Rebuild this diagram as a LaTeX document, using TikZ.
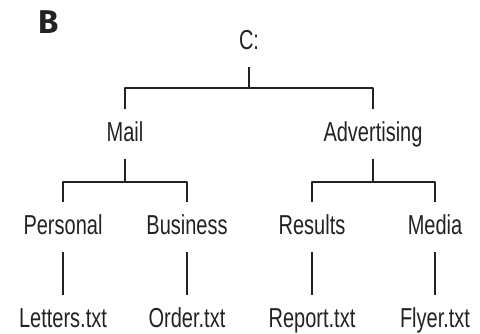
\documentclass[tikz,border=0pt]{standalone}
\usepackage{fontspec}
\setmainfont{Liberation Sans}[FakeStretch=0.73]
\newfontfamily\panelfont{Fira Sans}
\definecolor{inkgray}{HTML}{222222}
\begin{document}
\begin{tikzpicture}[line join=bevel,line width=1.3bp,draw=inkgray,
  dir/.style={draw=none,anchor=base,inner sep=0pt,outer xsep=0pt,outer ysep=14bp,
    text height=19bp,text depth=3.5bp,font=\fontsize{27.5}{30}\selectfont,text=inkgray},
  file/.style={dir,outer ysep=13bp},]
%%
\useasboundingbox (0bp,0bp) rectangle (480bp,334bp);
\node (node_B) at (48.5bp,311.5bp) [text=inkgray,inner sep=0pt] {\panelfont\bfseries\fontsize{33}{36}\selectfont B};
\node (node_C) at (249.0bp,284.0bp) [dir] {C:};
  \node (node_Mail) at (125.0bp,192.0bp) [dir] {Mail};
  \node (node_Advertising) at (373.0bp,192.0bp) [dir] {Advertising};
  \node (node_Personal) at (63.0bp,99.0bp) [dir] {Personal};
  \node (node_Business) at (187.0bp,99.0bp) [dir] {Business};
  \node (node_Results) at (312.0bp,99.0bp) [dir] {Results};
  \node (node_Media) at (435.0bp,99.0bp) [dir] {Media};
  \node (node_Letters) at (63.0bp,6.5bp) [file] {Letters.txt};
  \node (node_Order) at (187.0bp,6.5bp) [file] {Order.txt};
  \node (node_Report) at (312.0bp,6.5bp) [file] {Report.txt};
  \node (node_Flyer) at (435.0bp,6.5bp) [file] {Flyer.txt};
%
\coordinate (bar_C) at (249.0bp,246.0bp);
  \coordinate (bar_Mail) at (125.0bp,152.0bp);
  \coordinate (bar_Advertising) at (373.0bp,152.0bp);
%
\draw (node_C) -- (bar_C);
  \draw (bar_C) -| (node_Mail);
  \draw (bar_C) -| (node_Advertising);
  \draw (node_Mail) -- (bar_Mail);
  \draw (bar_Mail) -| (node_Personal);
  \draw (bar_Mail) -| (node_Business);
  \draw (node_Advertising) -- (bar_Advertising);
  \draw (bar_Advertising) -| (node_Results);
  \draw (bar_Advertising) -| (node_Media);
  \draw (node_Personal) -- (node_Letters);
  \draw (node_Business) -- (node_Order);
  \draw (node_Results) -- (node_Report);
  \draw (node_Media) -- (node_Flyer);
%
\end{tikzpicture}
\end{document}
